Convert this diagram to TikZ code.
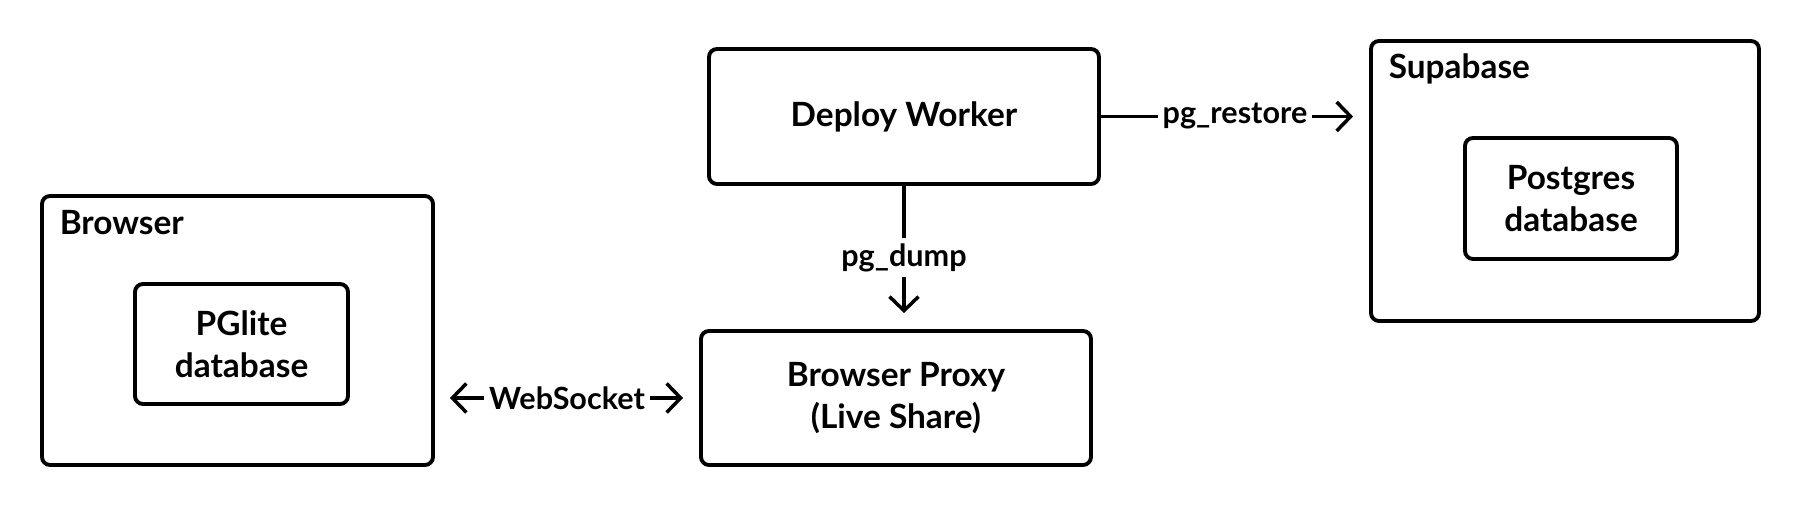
\documentclass[tikz,border=0pt]{standalone}
\usepackage{fontspec}
\setmainfont{Lato}
\usetikzlibrary{calc}
\usetikzlibrary{arrows.meta}
\tikzset{
  box/.style={draw,line width=1.1pt,rounded corners=0.8mm,minimum width=#1},
  box/.default=3.9cm,
  title/.style={anchor=north west,font=\bfseries\fontsize{9.5}{11}\selectfont,inner sep=0pt},
  txt/.style={font=\bfseries\fontsize{9.5}{12}\selectfont,align=center},
  barb/.tip={Straight Barb[length=1.4mm,width=2.9mm,line width=1pt]},
  flow/.style={line width =1pt,-barb},
  tag/.style={fill=white,inner sep=0.5mm,font=\bfseries\fontsize{8.7}{10}\selectfont}
}

\begin{document}
\begin{tikzpicture}
	\useasboundingbox (0,0) rectangle (18,5.06);
	% containers
	\node [box=3.91cm,minimum height=2.69cm] (browser) at (2.375,1.755) {};
	\node [title] at ($(browser.north west)+(0.19,-0.16)$) {Browser};
	\node [box=2.13cm,minimum height=1.2cm,txt] (pglite) at (2.415,1.62) {PGlite\\database};
	\node [box=3.88cm,minimum height=2.8cm] (supabase) at (15.65,3.25) {};
	\node [title] at ($(supabase.north west)+(0.19,-0.14)$) {Supabase};
	\node [box=2.12cm,minimum height=1.21cm,txt] (postgres) at (15.71,3.075) {Postgres\\database};
	% services
	\node [box=3.9cm,minimum height=1.35cm,txt] (deploy) at (9.04,3.895) {Deploy Worker};
	\node [box=3.9cm,minimum height=1.34cm,txt] (proxy) at (8.96,1.08) {Browser Proxy\\(Live Share)};
	% arrows
	\draw [flow,shorten >=0.16cm] (deploy.east) -- (supabase.west |- deploy.east) node [tag,midway]{pg\_restore};
	\draw [flow,shorten >=0.16cm] (deploy.south) -- (deploy.south |- proxy.north) node [tag,midway]{pg\_dump};
	\draw [flow,barb-barb,shorten <=0.15cm,shorten >=0.16cm] (browser.east |- proxy.west) -- (proxy.west) node [tag,midway]{WebSocket};
\end{tikzpicture}
\end{document}
